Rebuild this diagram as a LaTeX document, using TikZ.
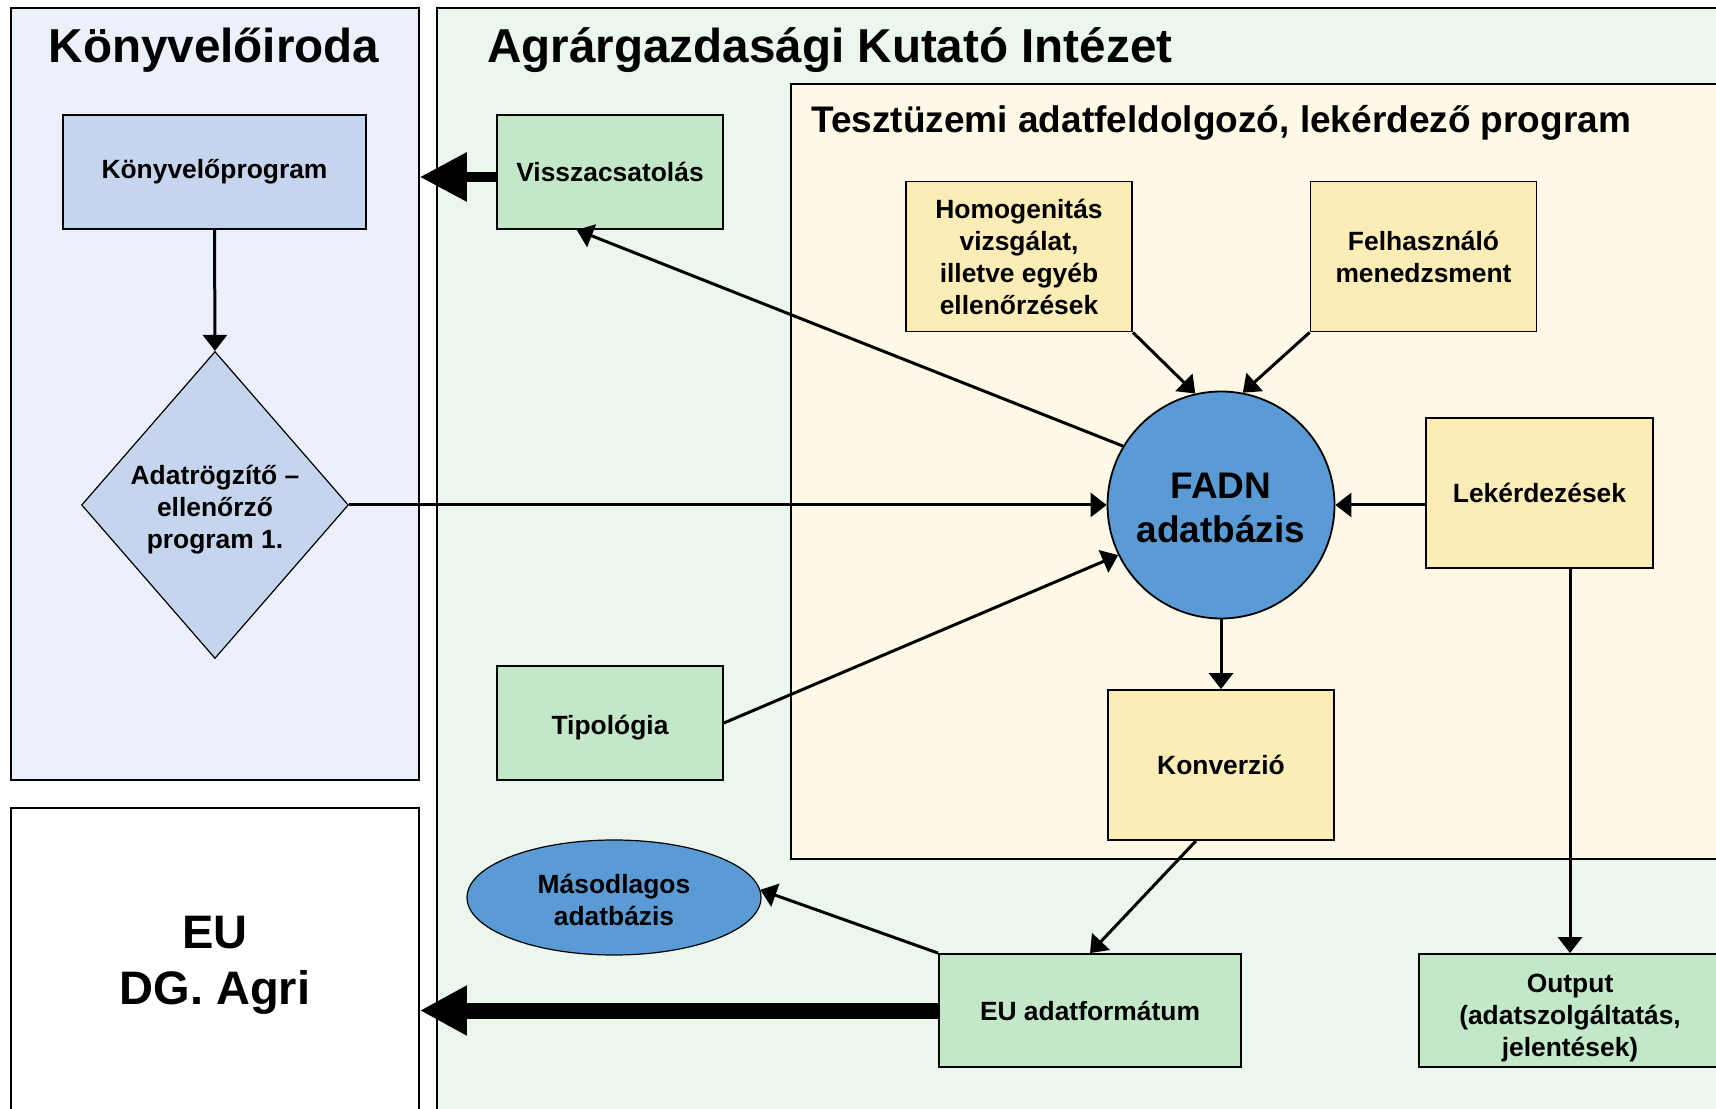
\documentclass[tikz,border=0pt]{standalone}
\usepackage{fontspec}
\setmainfont{Liberation Sans}
\usetikzlibrary{arrows.meta,positioning,calc,shapes.geometric}
\definecolor{PanelBlue}{HTML}{EBF0FA}
\definecolor{BoxBlue}{HTML}{C6D5EE}
\definecolor{PanelGreen}{HTML}{EBF6EC}
\definecolor{BoxGreen}{HTML}{C2E8C8}
\definecolor{PanelYellow}{HTML}{FDF9E6}
\definecolor{BoxYellow}{HTML}{FCEDB6}
\definecolor{DbBlue}{HTML}{5B9BD5}
\newcommand{\txtdown}[1]{\rule{0pt}{#1}}
\tikzset{>={Triangle[length=8pt,width=12pt]},
 nfont/.style={font=\bfseries\fontsize{13.2}{16}\selectfont},
 tfont/.style={font=\bfseries\fontsize{23.8}{28}\selectfont},
 tdown/.style={execute at begin node={\rule{0pt}{#1}}},
 panel/.style={draw,line width=.9pt,inner sep=0pt},
 box/.style={draw,line width=.9pt,nfont,align=center,inner sep=2pt,
 minimum width=113pt,minimum height=57pt},
 gbox/.style={box,fill=BoxGreen},ybox/.style={box,fill=BoxYellow,minimum height=75pt},
 flow/.style={->,line width=1.5pt},
 fat/.style={-{Triangle[length=23.5pt,width=23.5pt]},line width=#1}}
\begin{document}
\begin{tikzpicture}[x=5pt,y=5pt]
\clip (0,0) rectangle (171.6,110.8);
\fill[white] (0,0) rectangle (171.6,110.8);
\node[panel,fill=PanelBlue,minimum width=204pt,minimum height=386pt] (kiroda) at (21.5,71.4) {};
\node[panel,fill=white,minimum width=204pt,minimum height=157.5pt,align=center,
 font=\bfseries\fontsize{23.5}{28}\selectfont] (eu) at (21.5,14.25) {EU\\DG. Agri};
\draw[line width=.9pt,fill=PanelGreen] (43.7,-1) rectangle (175,110);
\draw[line width=.9pt,fill=PanelYellow] (79.1,24.9) rectangle (175,102.4);
\node[tfont] (tkiroda) at (21.4,105.75) {Könyvelőiroda};
\node[tfont,anchor=west,inner sep=0pt] (tinteze) at (48.7,105.75) {Agrárgazdasági Kutató Intézet};
\node[font=\bfseries\fontsize{18.5}{22}\selectfont,anchor=west,inner sep=0pt] (tprog) at (81.1,98.55)
 {Tesztüzemi adatfeldolgozó, lekérdező program};
\node[box,fill=BoxBlue,minimum width=151.5pt] (kprog) at (21.45,93.6) {Könyvelőprogram};
\node[diamond,draw,fill=BoxBlue,line width=.6pt,nfont,align=center,inner sep=0pt,
 minimum width=133pt,minimum height=153.5pt] (dia) at (21.5,60.3)
 {\txtdown{14.3pt}Adatrögzítő –\\ellenőrző\\program 1.};
\node[gbox] (vissza) at (61,93.6) {Visszacsatolás};
\node[gbox,tdown=13.8pt] (tipo) at (61,38.5) {Tipológia};
\node[ybox] (homog) at (101.9,85.15) {Homogenitás\\vizsgálat,\\illetve egyéb\\ellenőrzések};
\node[ybox] (felh) at (142.35,85.15) {Felhasználó\\menedzsment};
\node[circle,draw,fill=DbBlue,line width=.9pt,minimum size=113.5pt,inner sep=0pt,align=center,
 font=\bfseries\fontsize{18.5}{22}\selectfont] (fadn) at (122.1,60.3) {\txtdown{15.5pt}FADN\\adatbázis};
\node[ybox,minimum width=113.5pt] (lek) at (153.95,61.5) {Lekérdezések};
\node[ybox] (konv) at (122.1,34.3) {Konverzió};
\node[ellipse,draw,fill=DbBlue,line width=.6pt,nfont,align=center,inner sep=0pt,
 minimum width=147pt,minimum height=57.5pt] (masod) at (61.4,21.05) {\txtdown{12.1pt}Másodlagos\\adatbázis};
\node[gbox,minimum width=151pt,minimum height=56.5pt] (euform) at (109,9.75) {EU adatformátum};
\node[gbox,minimum width=151pt,minimum height=56.5pt] (outp) at (157,9.75)
 {\txtdown{16.3pt}Output\\(adatszolgáltatás,\\jelentések)};
\draw[flow] (kprog.south) -- (dia.north);
\draw[flow] (dia.east) -- (fadn.west);
\draw[flow] (fadn.149) -- ($(vissza.south west)!.354!(vissza.south east)$);
\draw[flow] (tipo.east) -- (fadn.206);
\draw[flow] (homog.south east) -- (fadn.103);
\draw[flow] (felh.south west) -- (fadn.79);
\draw[flow] (lek.west |- fadn.east) -- (fadn.east);
\draw[flow] (fadn.south) -- (konv.north);
\draw[flow] (lek.south -| outp.north) -- (outp.north);
\draw[flow] ($(konv.south west)!.39!(konv.south east)$) -- (euform.north);
\draw[flow] (euform.north west) -- (masod.3);
\coordinate (vw) at ($(vissza.west)+(0,-.5)$);
\draw[fat=5pt] (vw) -- (vw -| kiroda.east);
\draw[fat=8pt] (euform.west) -- (euform.west -| eu.east);
\end{tikzpicture}
\end{document}
